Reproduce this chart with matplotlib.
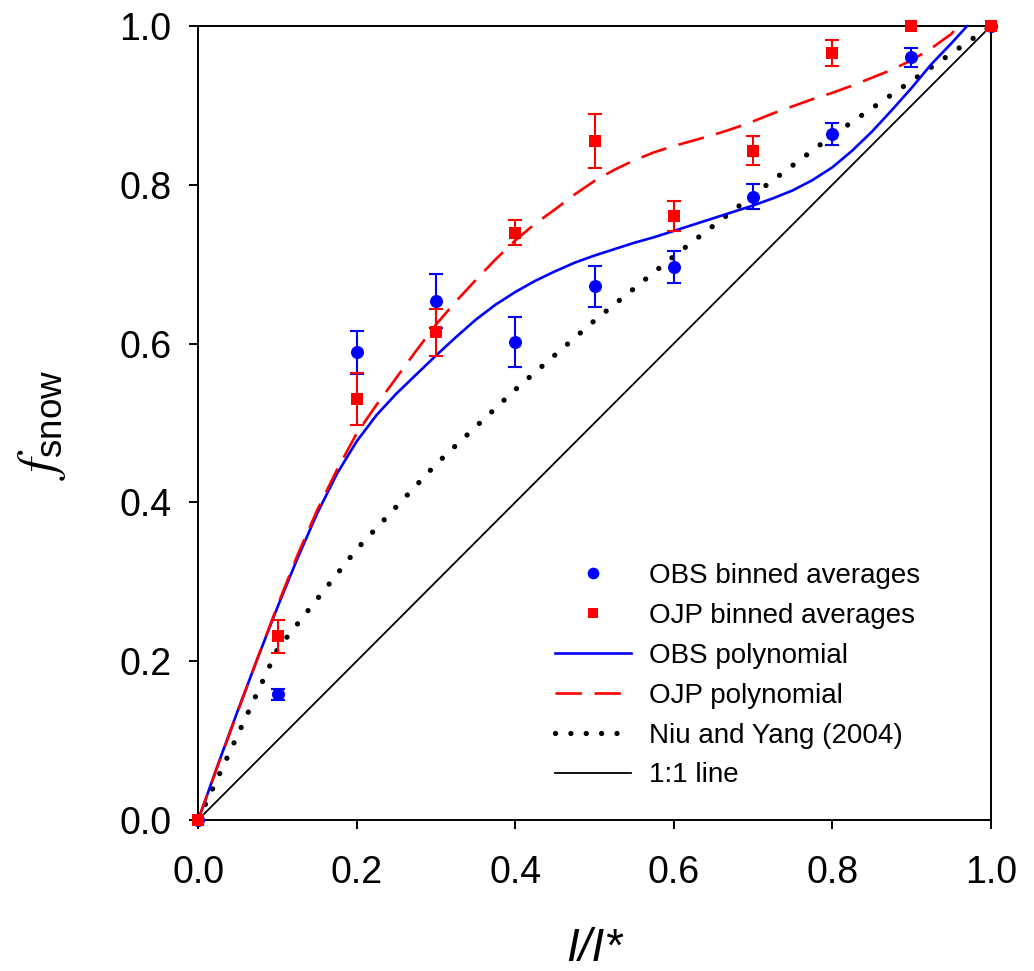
import numpy as np
import matplotlib
matplotlib.use("Agg")
import matplotlib.pyplot as plt

plt.rcParams['font.family'] = ['Liberation Sans', 'DejaVu Sans']
plt.rcParams['mathtext.fontset'] = 'custom'
plt.rcParams['mathtext.rm'] = 'Liberation Sans'
plt.rcParams['mathtext.it'] = 'STIXGeneral:italic'

# binned averages of snow cover fraction vs normalised interception
bin_x = [0.0, 0.1, 0.2, 0.3, 0.4, 0.5, 0.6, 0.7, 0.8, 0.9, 1.0]
obs_mean = [0.0, 0.158, 0.589, 0.654, 0.602, 0.672, 0.697, 0.785, 0.864, 0.961, 1.0]
obs_err = [0.0, 0.007, 0.027, 0.034, 0.031, 0.026, 0.020, 0.016, 0.014, 0.012, 0.0]
ojp_mean = [0.0, 0.231, 0.530, 0.614, 0.740, 0.855, 0.761, 0.843, 0.966, 1.0, 1.0]
ojp_err = [0.0, 0.021, 0.033, 0.029, 0.016, 0.034, 0.019, 0.018, 0.016, 0.0, 0.0]

# fitted polynomials
obs_poly_x = [0, 0.025, 0.05, 0.075, 0.1, 0.125, 0.15, 0.175, 0.2, 0.225, 0.25, 0.275,
              0.3, 0.325, 0.35, 0.375, 0.4, 0.425, 0.45, 0.475, 0.5, 0.525, 0.55, 0.575,
              0.6, 0.625, 0.65, 0.675, 0.7, 0.725, 0.75, 0.775, 0.8, 0.825, 0.85, 0.875,
              0.9, 0.925, 0.95, 0.97]
obs_poly_y = [0, 0.070, 0.138, 0.204, 0.268, 0.329, 0.386, 0.436, 0.477, 0.510, 0.537, 0.561,
              0.585, 0.608, 0.630, 0.649, 0.665, 0.679, 0.691, 0.702, 0.711, 0.719, 0.727, 0.734,
              0.742, 0.750, 0.758, 0.766, 0.774, 0.783, 0.793, 0.806, 0.822, 0.843, 0.867, 0.894,
              0.922, 0.952, 0.978, 1.0]
ojp_poly_x = [0, 0.025, 0.05, 0.075, 0.1, 0.125, 0.15, 0.175, 0.2, 0.225, 0.25, 0.275,
              0.3, 0.325, 0.35, 0.375, 0.4, 0.425, 0.45, 0.475, 0.5, 0.525, 0.55, 0.575,
              0.6, 0.625, 0.65, 0.675, 0.7, 0.725, 0.75, 0.775, 0.8, 0.825, 0.85, 0.875,
              0.9, 0.925, 0.95, 0.959]
ojp_poly_y = [0, 0.069, 0.137, 0.204, 0.270, 0.333, 0.390, 0.441, 0.487, 0.523, 0.557, 0.591,
              0.624, 0.653, 0.680, 0.706, 0.730, 0.751, 0.769, 0.788, 0.805, 0.819, 0.831, 0.841,
              0.849, 0.856, 0.863, 0.871, 0.880, 0.890, 0.899, 0.908, 0.916, 0.925, 0.935, 0.945,
              0.957, 0.972, 0.990, 1.0]

# Niu and Yang (2004) parameterisation
niu_x = [0.0, 0.1, 0.2, 0.3, 0.4, 0.5, 0.6, 0.7, 0.8, 0.9, 1.0]
niu_y = [0.0, 0.215, 0.341, 0.448, 0.542, 0.629, 0.710, 0.787, 0.862, 0.931, 1.0]

one_x = [0.0, 1.0]
one_y = [0.0, 1.0]

fig = plt.figure(figsize=(10.34, 9.71), dpi=100)
ax = fig.add_axes([198.3 / 1034, 1 - 819.7 / 971, 792.4 / 1034, 793.5 / 971])

one_line, = ax.plot(one_x, one_y, color='black', lw=1.3, label='1:1 line', zorder=2)
niu_line, = ax.plot(niu_x, niu_y, color='black', lw=3.8, dashes=(0.01, 3.2),
                    dash_capstyle='round', label='Niu and Yang (2004)', zorder=2)
obs_line, = ax.plot(obs_poly_x, obs_poly_y, color='#0000ff', lw=1.9, label='OBS polynomial',
                    zorder=3, clip_on=False)
ojp_line, = ax.plot(ojp_poly_x, ojp_poly_y, color='#ff0000', lw=1.9, dashes=(10, 4.8),
                    label='OJP polynomial', zorder=3, clip_on=False)

# error bars only where there is spread
bx = np.array(bin_x)
for mean, err, col in [(obs_mean, obs_err, '#0000ff'), (ojp_mean, ojp_err, '#ff0000')]:
    mean = np.array(mean)
    err = np.array(err)
    m = err > 0
    ax.errorbar(bx[m], mean[m], yerr=err[m], fmt='none', ecolor=col, elinewidth=1.5,
                capsize=5.2, capthick=1.5, zorder=4)

obs_pts, = ax.plot(bin_x, obs_mean, 'o', color='#0000ff', ms=9.4, mew=0,
                   label='OBS binned averages', zorder=5, clip_on=False)
ojp_pts, = ax.plot(bin_x, ojp_mean, 's', color='#ff0000', ms=8.0, mew=0,
                   label='OJP binned averages', zorder=6, clip_on=False)

ax.set_xlim(0, 1)
ax.set_ylim(0, 1)
ticks = np.arange(0, 1.01, 0.2)
ax.set_xticks(ticks)
ax.set_yticks(ticks)
ax.set_xticklabels(['%.1f' % t for t in ticks])
ax.set_yticklabels(['%.1f' % t for t in ticks])
ax.tick_params(axis='both', direction='out', length=6.5, width=1.4, labelsize=27)
ax.tick_params(axis='x', pad=19)
ax.tick_params(axis='y', pad=13)
for sp in ax.spines.values():
    sp.set_linewidth(1.4)

fig.text(594.5 / 1034, 0.0, 'I/I*', fontsize=33, style='italic', ha='center', va='bottom')
fig.text(42 / 1034, 1 - 425 / 971, r'$f_{\mathrm{snow}}$', fontsize=38, rotation=90,
         ha='center', va='center')

handles = [obs_pts, ojp_pts, obs_line, ojp_line, niu_line, one_line]
labels = [h.get_label() for h in handles]
leg = fig.legend(handles, labels, loc='upper left', bbox_to_anchor=(555 / 1034, 1 - 563 / 971),
                 frameon=False, fontsize=20, handlelength=2.75, handletextpad=0.65,
                 labelspacing=0.5, borderpad=0, borderaxespad=0)
leg.legend_handles[0].set_markersize(8.4)
leg.legend_handles[1].set_markersize(7.4)
leg.legend_handles[4].set_dashes((0.01, 2.9))

fig.savefig('out.png', dpi=100)
